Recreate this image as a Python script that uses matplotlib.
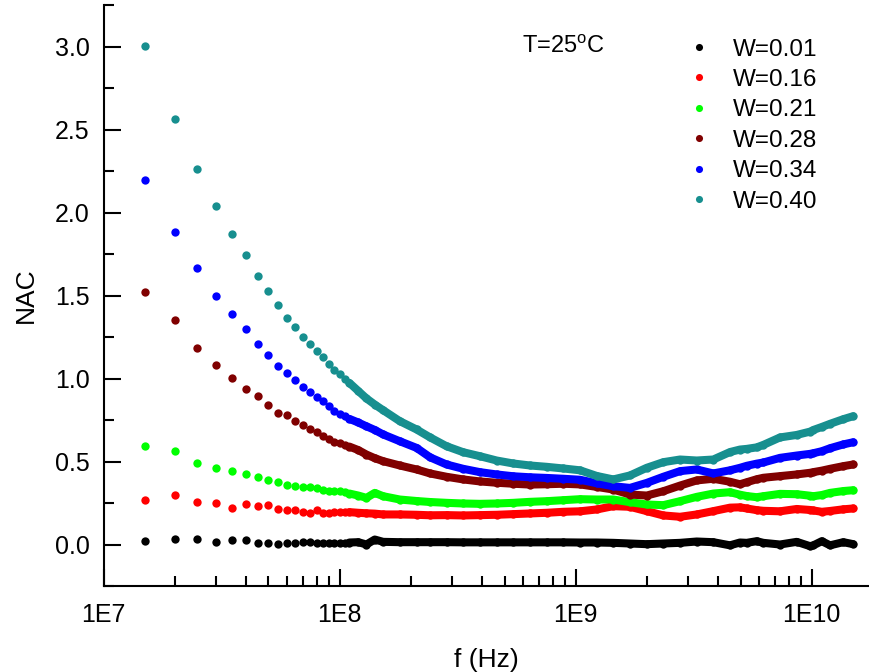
import matplotlib
matplotlib.use('Agg')
import matplotlib.pyplot as plt
from matplotlib.ticker import FixedLocator, LogLocator, MultipleLocator, NullFormatter, FormatStrFormatter

plt.rcParams['font.family'] = ['Liberation Sans', 'DejaVu Sans']

# frequency points (MHz)
freq_mhz = [15, 20, 25, 30, 35, 40, 45, 50, 55, 60, 65, 70, 75, 80, 85, 90, 95, 100, 105, 110,
            120, 130, 141, 153, 180, 212, 242, 284, 334, 393,
            463, 545, 641, 754, 887, 1044, 1229, 1444, 1700, 2001,
            2353, 2770, 3260, 3832, 4510, 4970, 5309, 5848, 6243, 7346,
            8647, 9845, 10170, 11040, 11970, 13620, 15000]

nac_w001 = [0.020, 0.034, 0.032, 0.016, 0.026, 0.026, 0.008, 0.008, 0.006, 0.008, 0.008, 0.016, 0.014, 0.008, 0.010, 0.010, 0.008, 0.010, 0.010, 0.012,
            0.014, 0.000, 0.030, 0.016, 0.014, 0.014, 0.014, 0.014, 0.013, 0.013,
            0.013, 0.013, 0.013, 0.013, 0.013, 0.012, 0.012, 0.010, 0.006, 0.002,
            0.006, 0.010, 0.018, 0.014, -0.005, 0.012, 0.010, 0.020, 0.010, 0.000,
            0.016, -0.010, -0.005, 0.020, -0.005, 0.014, 0.002]
nac_w016 = [0.271, 0.301, 0.257, 0.251, 0.219, 0.245, 0.231, 0.237, 0.213, 0.209, 0.207, 0.193, 0.191, 0.207, 0.191, 0.191, 0.195, 0.197, 0.195, 0.195,
            0.191, 0.188, 0.186, 0.181, 0.181, 0.179, 0.176, 0.177, 0.175, 0.177,
            0.179, 0.183, 0.187, 0.191, 0.197, 0.200, 0.211, 0.231, 0.227, 0.201,
            0.175, 0.167, 0.181, 0.201, 0.222, 0.224, 0.217, 0.207, 0.203, 0.200,
            0.214, 0.208, 0.205, 0.197, 0.202, 0.212, 0.217]
nac_w021 = [0.596, 0.562, 0.492, 0.460, 0.440, 0.426, 0.405, 0.387, 0.378, 0.361, 0.355, 0.348, 0.345, 0.339, 0.327, 0.321, 0.323, 0.321, 0.315, 0.307,
            0.295, 0.281, 0.311, 0.291, 0.271, 0.262, 0.256, 0.251, 0.247, 0.245,
            0.247, 0.251, 0.257, 0.261, 0.267, 0.273, 0.271, 0.271, 0.255, 0.241,
            0.237, 0.261, 0.287, 0.307, 0.315, 0.300, 0.292, 0.285, 0.291, 0.305,
            0.303, 0.294, 0.291, 0.298, 0.311, 0.322, 0.327]
nac_w028 = [1.520, 1.351, 1.185, 1.084, 1.004, 0.938, 0.896, 0.843, 0.793, 0.779, 0.743, 0.717, 0.693, 0.677, 0.651, 0.637, 0.616, 0.613, 0.598, 0.590,
            0.569, 0.542, 0.520, 0.502, 0.476, 0.452, 0.428, 0.408, 0.392, 0.380,
            0.372, 0.366, 0.361, 0.363, 0.366, 0.362, 0.347, 0.331, 0.301, 0.295,
            0.321, 0.355, 0.386, 0.396, 0.378, 0.363, 0.375, 0.393, 0.402, 0.412,
            0.422, 0.432, 0.436, 0.445, 0.456, 0.472, 0.482]
nac_w034 = [2.198, 1.884, 1.667, 1.500, 1.390, 1.301, 1.207, 1.140, 1.078, 1.032, 0.990, 0.948, 0.920, 0.890, 0.863, 0.833, 0.803, 0.789, 0.773, 0.757,
            0.735, 0.712, 0.690, 0.663, 0.622, 0.582, 0.525, 0.482, 0.456, 0.436,
            0.422, 0.411, 0.405, 0.401, 0.396, 0.390, 0.369, 0.351, 0.341, 0.371,
            0.408, 0.442, 0.452, 0.428, 0.447, 0.462, 0.474, 0.487, 0.494, 0.522,
            0.536, 0.546, 0.550, 0.562, 0.580, 0.603, 0.616]
nac_w040 = [3.002, 2.564, 2.265, 2.040, 1.869, 1.741, 1.616, 1.526, 1.442, 1.366, 1.309, 1.249, 1.209, 1.165, 1.128, 1.088, 1.054, 1.026, 0.999, 0.974,
            0.925, 0.880, 0.843, 0.809, 0.743, 0.693, 0.645, 0.592, 0.556, 0.532,
            0.506, 0.488, 0.476, 0.468, 0.458, 0.447, 0.413, 0.392, 0.416, 0.462,
            0.496, 0.512, 0.506, 0.512, 0.557, 0.572, 0.576, 0.585, 0.600, 0.645,
            0.660, 0.680, 0.690, 0.708, 0.727, 0.755, 0.773]

labels = ['W=0.01', 'W=0.16', 'W=0.21', 'W=0.28', 'W=0.34', 'W=0.40']
series = [nac_w001, nac_w016, nac_w021, nac_w028, nac_w034, nac_w040]
colors = ['#000000', '#ff0000', '#00ff00', '#800000', '#0000ff', '#178f8f']

x_ticks = [1e7, 1e8, 1e9, 1e10]
x_tick_labels = ['1E7', '1E8', '1E9', '1E10']

W, H = 869, 672
fig = plt.figure(figsize=(W / 100, H / 100), dpi=100)
ax = fig.add_axes([103.5 / W, 86 / H, 1 - 103.5 / W, (586 - 5) / H])

f_hz = [m * 1e6 for m in freq_mhz]
dense_start = 19
handles = []
for name, vals, col in zip(labels, series, colors):
    h, = ax.plot(f_hz, vals, 'o', ms=6, color=col, mec='none', label=name)
    ax.plot(f_hz[dense_start:], vals[dense_start:], '-', lw=5.8, color=col,
            solid_capstyle='round', solid_joinstyle='round')
    handles.append(h)

ax.set_xscale('log')
ax.set_xlim(1e7, 1.75e10)
ax.set_ylim(-0.25, 3.25)
ax.xaxis.set_major_locator(FixedLocator(x_ticks))
ax.set_xticklabels(x_tick_labels)
ax.xaxis.set_minor_locator(LogLocator(base=10, subs=[2, 3, 4, 5, 6, 7, 8, 9]))
ax.xaxis.set_minor_formatter(NullFormatter())
ax.yaxis.set_major_locator(MultipleLocator(0.5))
ax.yaxis.set_minor_locator(MultipleLocator(0.25))
ax.yaxis.set_major_formatter(FormatStrFormatter('%.1f'))

ax.tick_params(which='major', direction='in', length=12, width=1.5, labelsize=18, pad=10)
ax.tick_params(axis='x', which='major', pad=12)
ax.tick_params(which='minor', direction='in', length=7, width=1.5)
for s in ['top', 'right']:
    ax.spines[s].set_visible(False)
for s in ['left', 'bottom']:
    ax.spines[s].set_linewidth(1.5)

ax.set_xlabel('f (Hz)', fontsize=19, labelpad=15)
ax.set_ylabel('NAC', fontsize=19, labelpad=12)

fig.text(522 / W, 1 - 47 / H, 'T=25$^\\mathregular{o}$C', fontsize=17, va='center', ha='left')

ax.legend(handles=handles, loc='upper left', bbox_to_anchor=(687 / W, 1 - 38.5 / H),
          bbox_transform=fig.transFigure, frameon=False, fontsize=17.5,
          handlelength=1.0, handletextpad=0.9, labelspacing=0.345, borderpad=0,
          borderaxespad=0, markerscale=0.85)

fig.savefig('out.png', dpi=100)
